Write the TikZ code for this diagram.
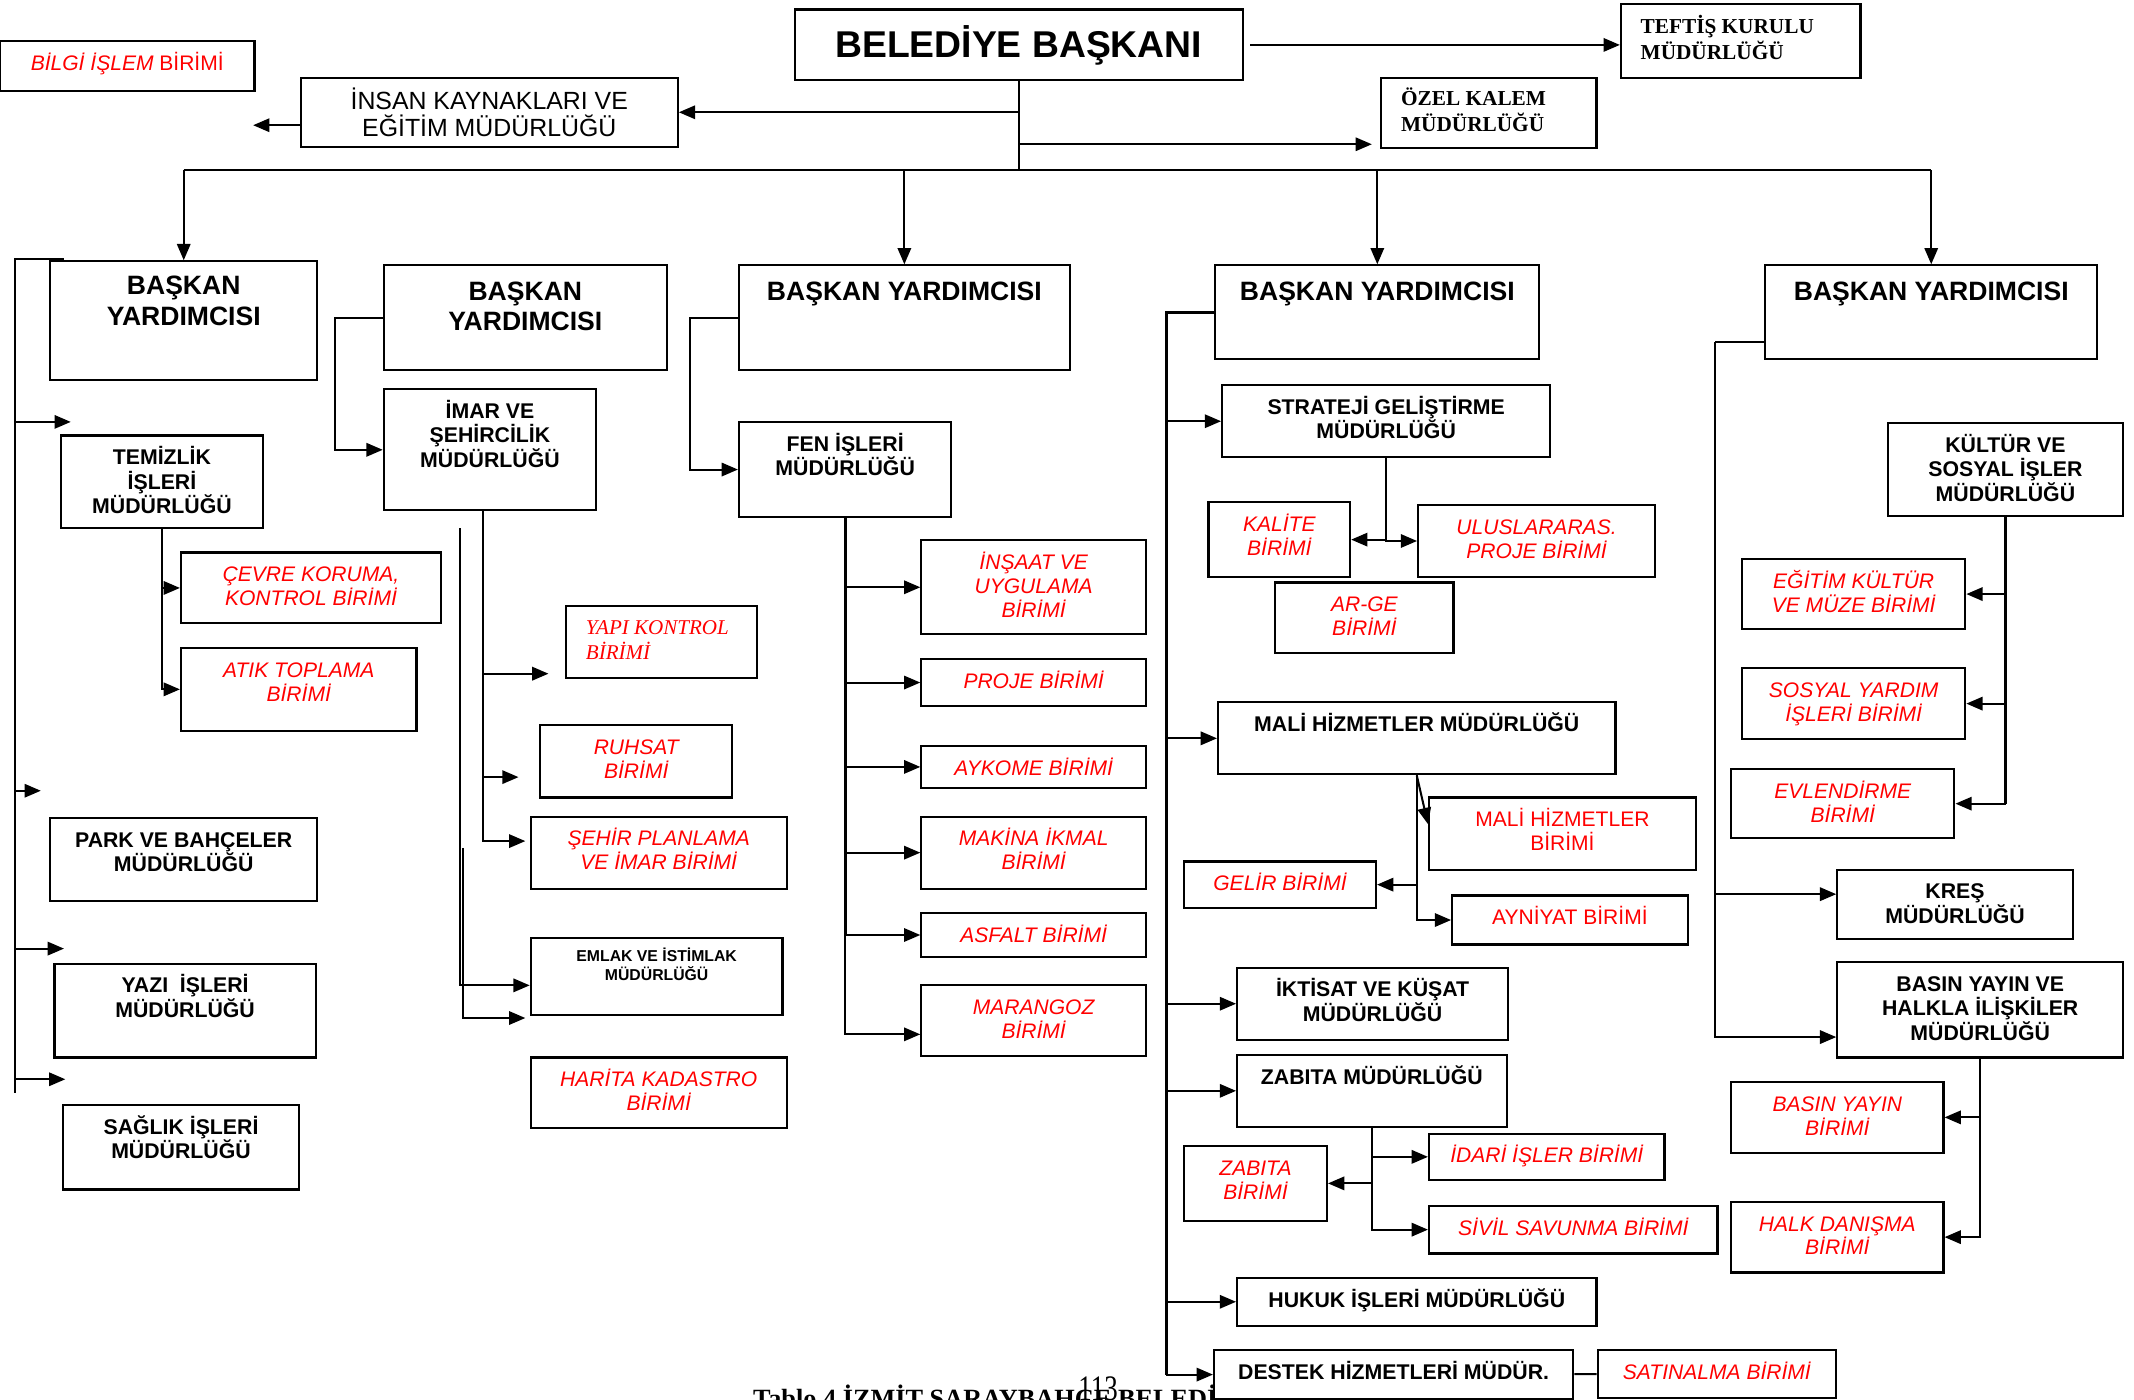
\documentclass[tikz,border=0pt]{standalone}
\usepackage{fontspec}
\usepackage{graphicx}
\setmainfont{Liberation Serif}
\setsansfont{Liberation Sans}
\usetikzlibrary{arrows.meta,fit}

\tikzset{
  box/.style={draw, line width=0.9pt, fill=white, inner sep=0pt},
  yazi/.style={anchor=north, align=center, inner sep=0pt},
  tbas/.style={yazi, font=\sffamily\bfseries\fontsize{15.6}{18}\selectfont},
  tby/.style={yazi, font=\sffamily\bfseries\fontsize{11.1}{12.8}\selectfont},
  tmud/.style={yazi, font=\sffamily\bfseries\fontsize{8.9}{10.2}\selectfont},
  tbir/.style={yazi, text=red, font=\sffamily\itshape\fontsize{8.8}{10}\selectfont},
  tbirdz/.style={yazi, text=red, font=\sffamily\fontsize{8.8}{10}\selectfont},
  tinsan/.style={yazi, font=\sffamily\fontsize{10.4}{11.4}\selectfont},
  temlak/.style={yazi, font=\sffamily\bfseries\fontsize{6.6}{8}\selectfont},
  ttimes/.style={yazi, anchor=north west, align=left, font=\rmfamily\bfseries\fontsize{8.9}{10.8}\selectfont},
  tyapi/.style={yazi, anchor=north west, align=left, text=red, font=\rmfamily\itshape\fontsize{8.8}{10.2}\selectfont},
  ln/.style={line width=0.85pt},
  kalin/.style={line width=1.4pt},
  arr/.style={ln, -{Triangle[length=6.8pt,width=5.6pt]}},
}

% box, first text line set #1 below its top edge
\newcommand{\kutu}[5][12.5pt]{%
  \node[box, fit={#4}, label={[#3]north:\rule{0pt}{#1}#5}] (#2) {};}

\begin{document}
\begin{tikzpicture}[x=0.02cm, y=-0.02cm]
    \useasboundingbox (0,0) rectangle (1568,1028);

    % caption under the chart
    \node[anchor=base west, inner sep=0pt, font=\rmfamily\bfseries\fontsize{11}{13}\selectfont]
        (baslik) at (553,1034) {Tablo 4 İZMİT SARAYBAHÇE BELEDİYESİ};
    \node[anchor=base west, inner sep=0pt, font=\rmfamily\fontsize{15}{15}\selectfont]
        (sayfa) at (792,1029) {\scalebox{0.75}[1]{113}};

    % top
    \kutu[20.5pt]{bb}{tbas}{(584,7) (913,59)}{BELEDİYE BAŞKANI}
    \node[box, fit={(1191,3) (1367,57)},
        label={[ttimes, xshift=8.5pt]north west:\rule{0pt}{12.5pt}TEFTİŞ KURULU\\MÜDÜRLÜĞÜ}] (teftis) {};
    \node[box, fit={(1015,57) (1173,109)},
        label={[ttimes, xshift=8.5pt]north west:\rule{0pt}{12pt}ÖZEL KALEM\\MÜDÜRLÜĞÜ}] (ozel) {};
    \kutu[13.4pt]{insan}{tinsan}{(221,57) (498,108)}{İNSAN KAYNAKLARI VE\\EĞİTİM MÜDÜRLÜĞÜ}
    \kutu{bilgi}{tbirdz}{(0,30) (187,67)}{\textit{BİLGİ İŞLEM} BİRİMİ}

    % baskan yardimcilari
    \kutu[14.2pt]{by1}{tby}{(37,192) (233,279)}{BAŞKAN\\YARDIMCISI}
    \kutu[14.8pt]{by2}{tby}{(282,195) (490,272)}{BAŞKAN\\YARDIMCISI}
    \kutu[14.8pt]{by3}{tby}{(543,195) (786,272)}{BAŞKAN YARDIMCISI}
    \kutu[14.8pt]{by4}{tby}{(893,195) (1131,264)}{BAŞKAN YARDIMCISI}
    \kutu[14.8pt]{by5}{tby}{(1297,195) (1541,264)}{BAŞKAN YARDIMCISI}

    % 1
    \kutu{temizlik}{tmud}{(45,320) (193,388)}{TEMİZLİK\\İŞLERİ\\MÜDÜRLÜĞÜ}
    \kutu{cevre}{tbir}{(133,406) (324,458)}{ÇEVRE KORUMA,\\KONTROL BİRİMİ}
    \kutu{atik}{tbir}{(133,476) (306,537)}{ATIK TOPLAMA\\BİRİMİ}
    \kutu{park}{tmud}{(37,601) (233,662)}{PARK VE BAHÇELER\\MÜDÜRLÜĞÜ}
    \kutu{yazi}{tmud}{(40,708) (232,777)}{YAZI\ \ İŞLERİ\\MÜDÜRLÜĞÜ}
    \kutu{saglik}{tmud}{(46,812) (220,874)}{SAĞLIK İŞLERİ\\MÜDÜRLÜĞÜ}

    % 2
    \kutu{imar}{tmud}{(282,286) (438,375)}{İMAR VE\\ŞEHİRCİLİK\\MÜDÜRLÜĞÜ}
    \node[box, fit={(416,445) (556,498)},
        label={[tyapi, xshift=8.5pt]north west:\rule{0pt}{12.5pt}YAPI KONTROL\\BİRİMİ}] (yapi) {};
    \kutu{ruhsat}{tbir}{(397,533) (538,586)}{RUHSAT\\BİRİMİ}
    \kutu{sehir}{tbir}{(390,600) (578,653)}{ŞEHİR PLANLAMA\\VE İMAR BİRİMİ}
    \kutu[10.2pt]{emlak}{temlak}{(390,689) (575,746)}{EMLAK VE İSTİMLAK\\MÜDÜRLÜĞÜ}
    \kutu{harita}{tbir}{(390,777) (578,829)}{HARİTA KADASTRO\\BİRİMİ}

    % 3
    \kutu{fen}{tmud}{(543,310) (699,380)}{FEN İŞLERİ\\MÜDÜRLÜĞÜ}
    \kutu{insaat}{tbir}{(677,397) (842,466)}{İNŞAAT VE\\UYGULAMA\\BİRİMİ}
    \kutu{proje}{tbir}{(677,484) (842,519)}{PROJE BİRİMİ}
    \kutu{aykome}{tbir}{(677,548) (842,579)}{AYKOME BİRİMİ}
    \kutu{makina}{tbir}{(677,600) (842,653)}{MAKİNA İKMAL\\BİRİMİ}
    \kutu{asfalt}{tbir}{(677,671) (842,703)}{ASFALT BİRİMİ}
    \kutu{marangoz}{tbir}{(677,724) (842,776)}{MARANGOZ\\BİRİMİ}

    % 4
    \kutu{strateji}{tmud}{(898,283) (1139,336)}{STRATEJİ GELİŞTİRME\\MÜDÜRLÜĞÜ}
    \kutu{kalite}{tbir}{(888,369) (992,424)}{KALİTE\\BİRİMİ}
    \kutu{ulus}{tbir}{(1042,371) (1216,424)}{ULUSLARARAS.\\PROJE BİRİMİ}
    \kutu{arge}{tbir}{(937,428) (1068,480)}{AR-GE\\BİRİMİ}
    \kutu{malimud}{tmud}{(895,516) (1187,569)}{MALİ HİZMETLER MÜDÜRLÜĞÜ}
    \kutu{malibir}{tbirdz}{(1050,586) (1246,639)}{MALİ HİZMETLER\\BİRİMİ}
    \kutu{gelir}{tbir}{(870,633) (1011,667)}{GELİR BİRİMİ}
    \kutu{ayniyat}{tbirdz}{(1067,658) (1240,694)}{AYNİYAT BİRİMİ}
    \kutu{iktisat}{tmud}{(909,711) (1108,764)}{İKTİSAT VE KÜŞAT\\MÜDÜRLÜĞÜ}
    \kutu{zabmud}{tmud}{(909,775) (1107,828)}{ZABITA MÜDÜRLÜĞÜ}
    \kutu{idari}{tbir}{(1050,833) (1223,867)}{İDARİ İŞLER BİRİMİ}
    \kutu{zabbir}{tbir}{(870,842) (975,897)}{ZABITA\\BİRİMİ}
    \kutu{sivil}{tbir}{(1050,886) (1262,921)}{SİVİL SAVUNMA BİRİMİ}
    \kutu{hukuk}{tmud}{(909,939) (1173,974)}{HUKUK İŞLERİ MÜDÜRLÜĞÜ}
    \kutu{destek}{tmud}{(892,992) (1156,1028)}{DESTEK HİZMETLERİ MÜDÜR.}
    \kutu{satin}{tbir}{(1174,992) (1349,1027)}{SATINALMA BİRİMİ}

    % 5
    \kutu{kultur}{tmud}{(1387,311) (1560,379)}{KÜLTÜR VE\\SOSYAL İŞLER\\MÜDÜRLÜĞÜ}
    \kutu{egitim}{tbir}{(1280,411) (1444,462)}{EĞİTİM KÜLTÜR\\VE MÜZE BİRİMİ}
    \kutu{sosyal}{tbir}{(1280,491) (1444,543)}{SOSYAL YARDIM\\İŞLERİ BİRİMİ}
    \kutu{evlen}{tbir}{(1272,565) (1436,616)}{EVLENDİRME\\BİRİMİ}
    \kutu{kres}{tmud}{(1350,639) (1523,690)}{KREŞ\\MÜDÜRLÜĞÜ}
    \kutu{basinmud}{tmud}{(1350,707) (1560,777)}{BASIN YAYIN VE\\HALKLA İLİŞKİLER\\MÜDÜRLÜĞÜ}
    \kutu{basinbir}{tbir}{(1272,795) (1428,847)}{BASIN YAYIN\\BİRİMİ}
    \kutu{halk}{tbir}{(1272,883) (1428,935)}{HALK DANIŞMA\\BİRİMİ}

    % connectors from the top
    \coordinate (bus) at (bb.south |- 0,125);
    \coordinate (ozelok) at (1008,106);
    \coordinate (bilgiok) at (186,92);
    \draw[ln] (bb.south) -- (bus);
    \draw[arr] ([xshift=2.8pt]bb.east) -- (bb.east -| teftis.west);
    \draw[arr] (bb.south |- insan.east) -- (insan.east);
    \draw[arr] (bb.south |- ozelok) -- (ozelok);
    \draw[arr] (insan.west |- bilgiok) -- (bilgiok);
    \draw[ln] (by1.north |- bus) -- (by5.north |- bus);
    \foreach \n in {by1,by3,by4,by5}
        \draw[arr] (\n.north |- bus) -- (\n.north);

    % 1
    \coordinate (s1bas) at (47,190);
    \coordinate (s1) at (11,190);
    \coordinate (s1son) at (11,803);
    \coordinate (ok1) at (52,310);
    \coordinate (ok2) at (30,581);
    \coordinate (ok3) at (47,697);
    \coordinate (ok4) at (48,793);
    \draw[ln] (s1bas) -- (s1) -- (s1son);
    \foreach \c in {ok1,ok2,ok3,ok4}
        \draw[arr] (s1 |- \c) -- (\c);
    \draw[arr] (temizlik.south) |- (cevre.west);
    \draw[arr] (temizlik.south) |- (atik.west);

    % 2
    \coordinate (s2) at ([xshift=-0.7cm]by2.west);
    \draw[arr] (by2.west) -- (s2) |- (imar.west);
    \coordinate (s3) at ([xshift=-0.1cm]imar.south);
    \coordinate (yapiok) at (403,495);
    \coordinate (ruhsatok) at (381,571);
    \coordinate (sehirok) at (386,618);
    \foreach \c in {yapiok,ruhsatok,sehirok}
        \draw[arr] (s3) |- (\c);
    \coordinate (e1) at (338,388);
    \coordinate (e2) at (340,623);
    \coordinate (emlakok) at (386,748);
    \draw[arr] (e1) |- ([yshift=-0.13cm]emlak.west);
    \draw[arr] (e2) |- (emlakok);

    % 3
    \coordinate (s4) at ([xshift=-0.7cm]by3.west);
    \draw[arr] (by3.west) -- (s4) |- (fen.west);
    \draw[kalin] (fen.south) -- (fen.south |- asfalt.west);
    \foreach \n in {insaat,proje,aykome,makina,asfalt}
        \draw[arr] (fen.south) |- (\n.west);
    \draw[arr] (fen.south) |- ([yshift=-0.2cm]marangoz.west);

    % 4
    \coordinate (s5) at ([xshift=-0.7cm]by4.west);
    \draw[kalin] (by4.west) -- (s5) -- (s5 |- destek.west);
    \foreach \n in {strateji,malimud,iktisat,zabmud,hukuk,destek}
        \draw[arr] (s5) |- (\n.west);
    \draw[arr] (strateji.south) |- (kalite.east);
    \draw[arr] (strateji.south) |- (ulus.west);
    \draw[arr] (malimud.south) |- (gelir.east);
    \draw[arr] (malimud.south) |- (ayniyat.west);
    \draw[arr] (malimud.south) -- ([yshift=0.14cm]malibir.west);
    \draw[arr] (zabmud.south) |- (idari.west);
    \draw[arr] (zabmud.south) |- (zabbir.east);
    \draw[arr] (zabmud.south) |- (sivil.west);
    \draw[ln] (destek) -- (satin);

    % 5
    \coordinate (s6) at ([xshift=-0.72cm, yshift=-0.44cm]by5.west);
    \draw[ln] ([yshift=-0.44cm]by5.west) -- (s6);
    \draw[arr] (s6) |- ([yshift=0.15cm]kres.west);
    \draw[arr] (s6) |- ([yshift=-0.4cm]basinmud.west);
    \draw[kalin] (kultur.south) -- (kultur.south |- evlen.east);
    \foreach \n in {egitim,sosyal,evlen}
        \draw[arr] (kultur.south) |- (\n.east);
    \foreach \n in {basinbir,halk}
        \draw[arr] (basinmud.south) |- (\n.east);
\end{tikzpicture}
\end{document}
